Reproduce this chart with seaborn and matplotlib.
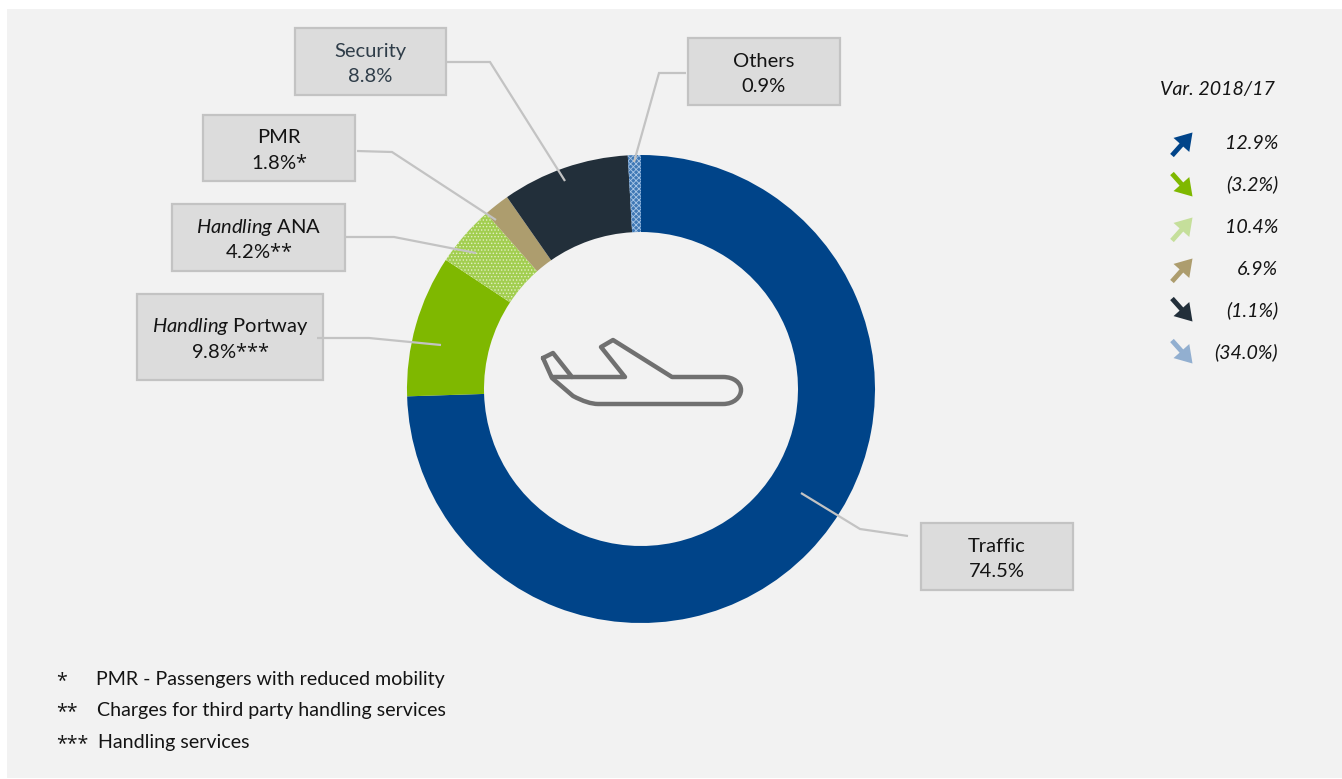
import matplotlib
matplotlib.use("Agg")
import matplotlib.pyplot as plt
from matplotlib.patches import Rectangle, PathPatch
from matplotlib.path import Path
import seaborn as sns

# Revenue split
categories = ["Traffic", "Handling Portway", "Handling ANA", "PMR", "Security", "Others"]
shares = [74.5, 9.8, 4.2, 1.8, 8.8, 0.9]
footnote_marks = ["", "***", "**", "*", "", ""]

# Year-on-year variation shown beside the chart, same order as the slices
variations = [12.9, -3.2, 10.4, 6.9, -1.1, -34.0]

footnotes = [
    ("*", "PMR - Passengers with reduced mobility"),
    ("**", "Charges for third party handling services"),
    ("***", "Handling services"),
]

slice_colors = ["#004489", "#7fb800", "#a2ce50", "#ad9d6e", "#222f3a", "#3f78b5"]
arrow_colors = ["#004489", "#7fb800", "#c5df9b", "#ad9d6e", "#222f3a", "#92afd0"]
slice_hatches = [None, None, ".....", None, None, "xxxxxx"]
hatch_colors = [None, None, "#e2efc4", None, None, "#a8c6e6"]

W, H = 1342, 779
PANEL = "#f2f2f2"
BOX_FACE = "#dcdcdc"
BOX_EDGE = "#c3c3c3"
INK = "#141414"
PLANE = "#707070"
FONT = "Lato"
STAR_FONT = "Open Sans"
LABEL_SIZE = 14.5
SIDE_SIZE = 14.1

sns.set_theme(style="white", palette=sns.color_palette(slice_colors))
plt.rcParams.update({
    "font.family": [FONT, "DejaVu Sans"],
    "mathtext.fontset": "custom",
    "mathtext.rm": FONT,
    "mathtext.it": f"{FONT}:italic",
    "mathtext.sf": STAR_FONT,
    "hatch.linewidth": 0.6,
})

fig = plt.figure(figsize=(W / 100, H / 100), dpi=100, facecolor="white")
ax = fig.add_axes([0, 0, 1, 1])

ax.add_patch(Rectangle((7, 9), W - 7, 769, facecolor=PANEL, edgecolor="none", zorder=0))

# Donut, running clockwise from twelve o'clock on the downward y axis
wedges, _ = ax.pie(
    shares,
    colors=sns.color_palette(slice_colors),
    radius=234,
    center=(641, 389),
    startangle=270,
    counterclock=True,
    wedgeprops=dict(width=77, linewidth=0),
)
for wedge, hatch, hatch_color in zip(wedges, slice_hatches, hatch_colors):
    wedge.set_zorder(1)
    if hatch:
        wedge.set_hatch(hatch)
        wedge.set_edgecolor(hatch_color)
        wedge.set_linewidth(0)

ax.set_xlim(0, W)
ax.set_ylim(H, 0)
ax.set_aspect("equal")
ax.axis("off")

# Callout boxes: left, top, right, bottom and the leader polyline for each slice
box_layout = {
    "Traffic": ((921, 523, 1073, 590), [(908, 536), (860, 529), (801, 493)]),
    "Handling Portway": ((137, 294, 323, 380), [(317, 338), (369, 338), (441, 345)]),
    "Handling ANA": ((172, 204, 345, 271), [(346, 237), (394, 237), (476, 253)]),
    "PMR": ((203, 115, 355, 181), [(357, 151), (392, 152), (496, 220)]),
    "Security": ((295, 28, 446, 95), [(447, 62), (490, 62), (565, 181)]),
    "Others": ((688, 38, 840, 105), [(686, 73), (659, 73), (634, 162)]),
}


def star_math(mark):
    """Asterisks set in a heavier face than the body font, kept tight together."""
    if not mark:
        return ""
    return "$\\mathsf{" + "".join("{*}" for _ in mark) + "}$"


for name, share, mark in zip(categories, shares, footnote_marks):
    (x0, y0, x1, y1), leader = box_layout[name]
    ax.add_patch(Rectangle((x0, y0), x1 - x0, y1 - y0, facecolor=BOX_FACE,
                           edgecolor=BOX_EDGE, linewidth=1.6, zorder=2))
    ax.plot(*zip(*leader), color=BOX_EDGE, linewidth=1.6, zorder=3,
            solid_joinstyle="miter", solid_capstyle="butt")
    title = name.replace("Handling", r"$\mathit{Handling}$")
    color = "#2f3d49" if name == "Security" else INK
    cx, cy = (x0 + x1) / 2, (y0 + y1) / 2
    ax.text(cx, cy - 5, title, ha="center", va="baseline", fontsize=LABEL_SIZE, color=color, zorder=4)
    ax.text(cx, cy + 20.5, f"{share:.1f}%" + star_math(mark), ha="center", va="baseline",
            fontsize=LABEL_SIZE, color=color, zorder=4)

# Aircraft outline in the hole of the donut
C4 = Path.CURVE4
C3 = Path.CURVE3
plane_vertices = [
    (543, 358), (553, 353), (572, 377), (625, 377), (601, 347), (613, 340),
    (672, 377), (723, 377), (734, 377), (741, 383), (741, 390), (741, 397), (734, 404), (723, 404),
    (598, 404), (588, 404), (573, 396), (552, 378), (543, 358),
]
plane_codes = [
    Path.MOVETO, Path.LINETO, Path.LINETO, Path.LINETO, Path.LINETO, Path.LINETO,
    Path.LINETO, Path.LINETO, C4, C4, C4, C4, C4, C4,
    Path.LINETO, C3, C3, Path.LINETO, Path.LINETO,
]
plane_style = dict(fill=False, edgecolor=PLANE, linewidth=3.2,
                   joinstyle="round", capstyle="round", zorder=2)
ax.add_patch(PathPatch(Path(plane_vertices, plane_codes), **plane_style))
ax.plot([552, 572], [377, 377], color=PLANE, linewidth=3.2, solid_capstyle="round", zorder=2)

# Variation column
ax.text(1217.5, 95, "Var. 2018/17", ha="center", va="baseline", fontsize=SIDE_SIZE, style="italic", color=INK)
row_centers = [144, 185, 229, 270, 310, 352]
text_rows = [149, 190.5, 233, 275, 316.5, 358.5]
for value, color, yc, yt in zip(variations, arrow_colors, row_centers, text_rows):
    label = f"{value:.1f}%" if value >= 0 else f"({abs(value):.1f}%)"
    ax.text(1278, yt, label, ha="right", va="baseline", fontsize=SIDE_SIZE, style="italic", color=INK)
    rising = value >= 0
    start = (1172, yc + 11.5) if rising else (1172, yc - 11.5)
    end = (1192.5, yc - 11.5) if rising else (1192.5, yc + 11.5)
    ax.annotate("", xy=end, xytext=start, zorder=3,
                arrowprops=dict(arrowstyle="simple,head_length=0.75,head_width=0.95,tail_width=0.22",
                                color=color, linewidth=0, shrinkA=0, shrinkB=0, mutation_scale=16))

# Footnotes
for (mark, text), y, x in zip(footnotes, [685, 716, 748], [96, 97, 98]):
    ax.text(56, y + 1, mark, ha="left", va="baseline", fontsize=SIDE_SIZE, family=STAR_FONT, color=INK)
    ax.text(x, y, text, ha="left", va="baseline", fontsize=SIDE_SIZE, color=INK)

fig.savefig("out.png", dpi=100, facecolor="white")
